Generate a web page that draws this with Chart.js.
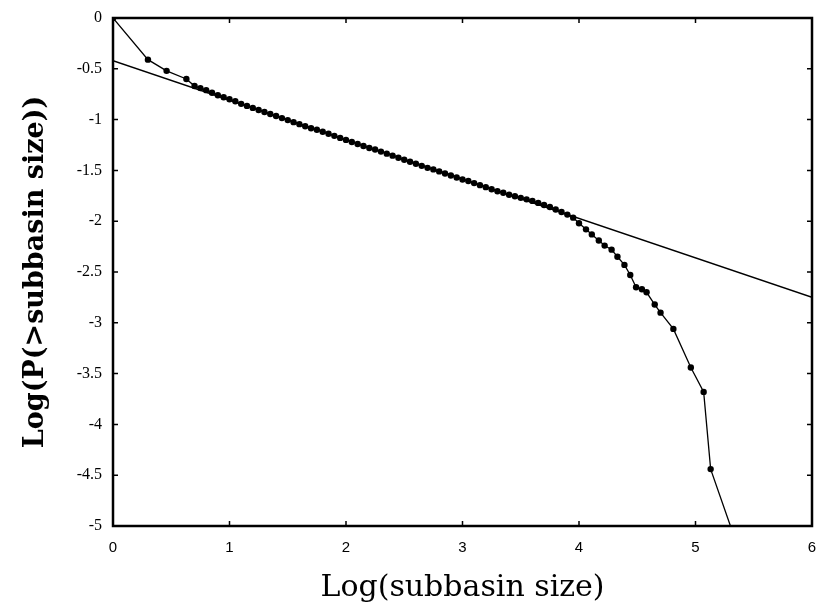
<!DOCTYPE html>
<html>
<head>
<meta charset="utf-8">
<script src="https://cdn.jsdelivr.net/npm/chart.js@4/dist/chart.umd.min.js"></script>
<style>
  html, body { margin: 0; padding: 0; background: #fff; }
  #wrap { width: 817px; height: 612px; }
</style>
</head>
<body>
<div id="wrap"><canvas id="myChart" width="817" height="612"></canvas></div>
<script>
// cumulative distribution, log10 subbasin size vs log10 P(>size)
const logSize = [0, 0.30, 0.46, 0.63,
  0.70, 0.75, 0.80, 0.85, 0.90, 0.95, 1.00, 1.05, 1.10, 1.15, 1.20, 1.25,
  1.30, 1.35, 1.40, 1.45, 1.50, 1.55, 1.60, 1.65, 1.70, 1.75, 1.80, 1.85,
  1.90, 1.95, 2.00, 2.05, 2.10, 2.15, 2.20, 2.25, 2.30, 2.35, 2.40, 2.45,
  2.50, 2.55, 2.60, 2.65, 2.70, 2.75, 2.80, 2.85, 2.90, 2.95, 3.00, 3.05,
  3.10, 3.15, 3.20, 3.25, 3.30, 3.35, 3.40, 3.45, 3.50, 3.55, 3.60, 3.65,
  3.70, 3.75, 3.80, 3.85, 3.90, 3.95, 4.00,
  4.06, 4.11, 4.17, 4.22, 4.28, 4.33, 4.39, 4.44, 4.49, 4.54, 4.58, 4.65,
  4.70, 4.81, 4.96, 5.07, 5.13, 5.30];
const logProb = [0, -0.41, -0.52, -0.60,
  -0.67, -0.69, -0.71, -0.735, -0.76, -0.78, -0.80, -0.82, -0.845, -0.865, -0.885, -0.905,
  -0.925, -0.945, -0.965, -0.985, -1.005, -1.025, -1.045, -1.065, -1.085, -1.10, -1.12, -1.14,
  -1.16, -1.18, -1.20, -1.22, -1.24, -1.26, -1.28, -1.295, -1.315, -1.335, -1.355, -1.375,
  -1.395, -1.415, -1.435, -1.455, -1.475, -1.49, -1.51, -1.53, -1.55, -1.57, -1.59, -1.605,
  -1.625, -1.645, -1.665, -1.685, -1.705, -1.72, -1.74, -1.755, -1.77, -1.785, -1.80, -1.82,
  -1.84, -1.86, -1.885, -1.91, -1.935, -1.965, -2.02,
  -2.08, -2.13, -2.19, -2.24, -2.28, -2.35, -2.43, -2.53, -2.65, -2.67, -2.70, -2.82,
  -2.90, -3.06, -3.44, -3.68, -4.44, -5.0];

// fitted power law line
const fitX = [0, 6];
const fitY = [-0.42, -2.75];

const xTicks = [0, 1, 2, 3, 4, 5, 6];
const yTicks = [0, -0.5, -1, -1.5, -2, -2.5, -3, -3.5, -4, -4.5, -5];

const frame = {
  id: 'frame',
  afterDatasetsDraw(chart) {
    const { ctx, chartArea: a, scales } = chart;
    ctx.save();
    ctx.strokeStyle = '#000';
    ctx.lineWidth = 1.5;
    ctx.beginPath();
    xTicks.forEach(v => {
      const px = scales.x.getPixelForValue(v);
      ctx.moveTo(px, a.bottom); ctx.lineTo(px, a.bottom - 5);
      ctx.moveTo(px, a.top); ctx.lineTo(px, a.top + 5);
    });
    yTicks.forEach(v => {
      const py = scales.y.getPixelForValue(v);
      ctx.moveTo(a.left, py); ctx.lineTo(a.left + 5, py);
      ctx.moveTo(a.right, py); ctx.lineTo(a.right - 5, py);
    });
    ctx.stroke();
    ctx.lineWidth = 2.5;
    ctx.strokeRect(a.left, a.top, a.right - a.left, a.bottom - a.top);
    ctx.restore();
  }
};

const ctx = document.getElementById('myChart').getContext('2d');
const myChart = new Chart(ctx, {
  type: 'scatter',
  data: {
    datasets: [{
      label: 'data',
      data: logSize.map((x, i) => ({ x: x, y: logProb[i] })),
      showLine: true,
      borderColor: '#000',
      backgroundColor: '#000',
      borderWidth: 1.3,
      pointRadius: c => (c.dataIndex === logSize.length - 1 ? 0 : 3.2),
      pointBorderWidth: 0
    }, {
      label: 'fit',
      data: fitX.map((x, i) => ({ x: x, y: fitY[i] })),
      showLine: true,
      borderColor: '#000',
      borderWidth: 1.5,
      pointRadius: 0
    }]
  },
  options: {
    responsive: false,
    animation: false,
    layout: { padding: { top: 18, right: 0, left: 0, bottom: 0 } },
    plugins: { legend: { display: false }, tooltip: { enabled: false } },
    scales: {
      x: {
        type: 'linear',
        min: 0, max: 6,
        afterBuildTicks: s => { s.ticks = xTicks.map(v => ({ value: v })); },
        afterFit: s => { s.height = 86; s.paddingRight = 5; },
        grid: { display: false },
        border: { display: false },
        ticks: {
          color: '#000', padding: 5,
          font: { family: 'Liberation Sans', size: 15 },
          callback: v => String(v)
        },
        title: {
          display: true, text: 'Log(subbasin size)', color: '#000',
          font: { family: 'DejaVu Serif', size: 30 },
          padding: { top: 14, bottom: 6 }
        }
      },
      y: {
        type: 'linear',
        min: -5, max: 0,
        afterBuildTicks: s => { s.ticks = yTicks.map(v => ({ value: v })); },
        afterFit: s => { s.width = 113; },
        grid: { display: false },
        border: { display: false },
        ticks: {
          color: '#000', padding: 3,
          font: { family: 'Liberation Serif', size: 16 },
          callback: v => String(v)
        },
        title: {
          display: true, text: 'Log(P(>subbasin size))', color: '#000',
          font: { family: 'DejaVu Serif', size: 27, weight: 'bold' },
          padding: { top: 20, bottom: 0 }
        }
      }
    }
  },
  plugins: [frame]
});
</script>
</body>
</html>
